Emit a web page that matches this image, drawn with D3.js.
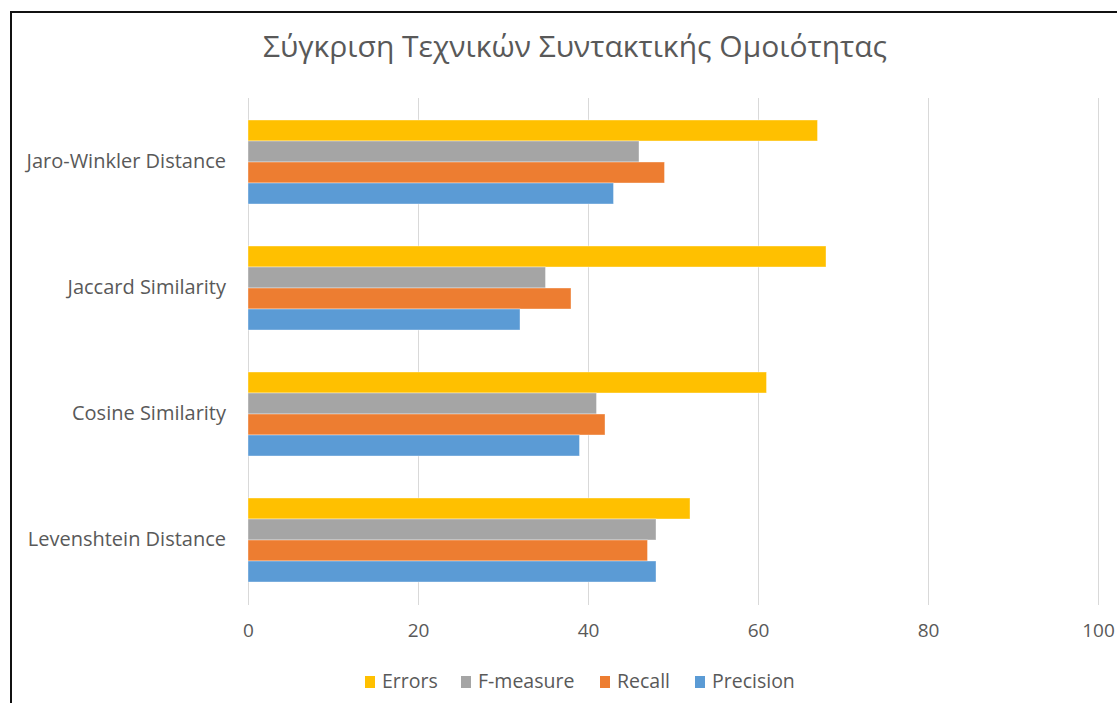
<!DOCTYPE html>
<html><head><meta charset="utf-8">
<script src="https://cdn.jsdelivr.net/npm/d3@7"></script>
<style>html,body{margin:0;padding:0;background:#fff;overflow:hidden}</style>
</head><body>
<svg id="chart" width="1117" height="703"></svg>
<script>
const title = "Σύγκριση Τεχνικών Συντακτικής Ομοιότητας";
const categories = ["Jaro-Winkler Distance", "Jaccard Similarity", "Cosine Similarity", "Levenshtein Distance"];
const seriesNames = ["Errors", "F-measure", "Recall", "Precision"];
const errors    = [67, 68, 61, 52];
const fmeasure  = [46, 35, 41, 48];
const recall    = [49, 38, 42, 47];
const precision = [43, 32, 39, 48];
const tickValues = [0, 20, 40, 60, 80, 100];
const colors = ["#FFC000", "#A5A5A5", "#ED7D31", "#5B9BD5"];

const seriesValues = [errors, fmeasure, recall, precision];
const FONT = "'Open Sans', 'Liberation Sans', sans-serif";
const svg = d3.select("#chart");

// outer border
svg.append("rect").attr("x", 11).attr("y", 12).attr("width", 1200).attr("height", 800)
  .attr("fill", "none").attr("stroke", "#111").attr("stroke-width", 2);

const x = d3.scaleLinear().domain([0, 100]).range([248, 1098]);
const y = d3.scaleBand().domain(categories).range([99, 603]).paddingInner(1/3).paddingOuter(1/6);
const ySub = d3.scaleBand().domain(seriesNames).range([0, y.bandwidth()]);

// title
svg.append("text").attr("x", 575).attr("y", 57).attr("text-anchor", "middle")
  .attr("font-family", FONT).attr("font-size", 30).attr("fill", "#595959").text(title);

// gridlines
svg.append("g").selectAll("line").data(tickValues).join("line")
  .attr("x1", d => x(d) + 0.5).attr("x2", d => x(d) + 0.5)
  .attr("y1", 98).attr("y2", 605)
  .attr("stroke", "#d9d9d9").attr("stroke-width", 1);

// bars
const groups = svg.append("g").selectAll("g").data(categories).join("g")
  .attr("transform", d => `translate(0,${y(d)})`);
groups.selectAll("rect").data((c, ci) => seriesNames.map((s, si) => ({s, si, v: seriesValues[si][ci]})))
  .join("rect")
  .attr("x", x(0)).attr("y", d => ySub(d.s))
  .attr("width", d => x(d.v) - x(0)).attr("height", ySub.bandwidth())
  .attr("fill", d => colors[d.si])
  .attr("stroke", "#fff").attr("stroke-opacity", 0.5).attr("stroke-width", 0.75);

// x axis (tick labels only)
const xAxis = d3.axisBottom(x).tickValues(tickValues).tickSize(0).tickPadding(0);
const gx = svg.append("g").attr("transform", "translate(0,623)").call(xAxis);
gx.select(".domain").remove();
gx.selectAll("text").attr("font-family", FONT).attr("font-size", 19).attr("fill", "#595959");

// y axis labels
const yAxis = d3.axisLeft(y).tickSize(0).tickPadding(0);
const gy = svg.append("g").attr("transform", "translate(226,0)").call(yAxis);
gy.select(".domain").remove();
gy.selectAll("text").attr("font-family", FONT).attr("font-size", 20).attr("fill", "#595959");

// legend
const legendTextX = [382, 478, 617, 712];
const lg = svg.append("g").selectAll("g").data(seriesNames).join("g")
  .attr("transform", (d, i) => `translate(${legendTextX[i]},674)`);
lg.append("rect").attr("x", -17).attr("y", 2).attr("width", 10).attr("height", 12)
  .attr("fill", (d, i) => colors[i]);
lg.append("text").attr("x", 0).attr("y", 14).attr("font-family", FONT).attr("font-size", 19.5)
  .attr("fill", "#595959").text(d => d);
</script>
</body></html>
